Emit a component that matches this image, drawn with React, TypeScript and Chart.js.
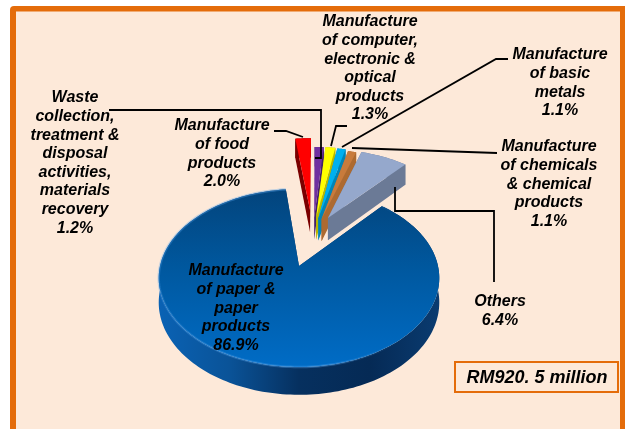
import React, { useEffect, useRef } from "react";
import { Chart, registerables } from "chart.js";

Chart.register(...registerables);

// ---- data ----
const categories = [
  "Manufacture of paper & paper products",
  "Manufacture of food products",
  "Waste collection, treatment & disposal activities, materials recovery",
  "Manufacture of computer, electronic & optical products",
  "Manufacture of basic metals",
  "Manufacture of chemicals & chemical products",
  "Others",
];
const shares = [86.9, 2.0, 1.2, 1.3, 1.1, 1.1, 6.4];
const totalNote = "RM920. 5 million";

// ---- styles ----
const topColors = ["#0060AE", "#FF0000", "#7030A0", "#FFFF00", "#00B0F0", "#C87B3C", "#95A8CC"];
const wallColors = ["#0A3B70", "#7A0000", "#45206A", "#B8B800", "#0085B8", "#AD6A30", "#6B7A96"];
// slice explosion in units of the pie radius (sideways, depthwise) and per-slice scale
const explodeU = [0, 0.087, 0.118, 0.133, 0.15, 0.175, 0.225];
const explodeV = [0, -0.7, -0.6, -0.6, -0.59, -0.58, -0.593];
const sliceScale = [1, 1.12, 1.07, 1.07, 1.07, 1.05, 1.04];

const labelBlocks = [
  { cx: 236, top: 271, lines: ["Manufacture", "of paper &", "paper", "products", "86.9%"] },
  { cx: 222, top: 126, lines: ["Manufacture", "of food", "products", "2.0%"] },
  { cx: 75, top: 98, lines: ["Waste", "collection,", "treatment &", "disposal", "activities,", "materials", "recovery", "1.2%"] },
  { cx: 370, top: 22, lines: ["Manufacture", "of computer,", "electronic &", "optical", "products", "1.3%"] },
  { cx: 560, top: 55, lines: ["Manufacture", "of basic", "metals", "1.1%"] },
  { cx: 549, top: 147, lines: ["Manufacture", "of chemicals", "& chemical", "products", "1.1%"] },
  { cx: 500, top: 302, lines: ["Others", "6.4%"] },
];
const leaders = [
  [[274, 131], [286, 131], [303, 137]],
  [[109, 110], [321, 110], [321, 158], [315, 158]],
  [[347, 126], [336, 126], [331, 146]],
  [[508, 59], [496, 59], [342, 147]],
  [[497, 153], [352, 148]],
  [[395, 187], [395, 211], [494, 211], [494, 282]],
];

// projection of the pie plane on to the page (perspective tilt)
const CX = 299, CY = 266, R = 139, A = 87.4, B = -0.135, DEPTH = 24;
const project = (u: number, v: number, low = false) => {
  const w = 1 + B * v;
  return { x: CX + (R * u) / w, y: CY + (A * v) / w + (low ? DEPTH / w : 0) };
};

const tracePoly = (ctx: CanvasRenderingContext2D, pts: { x: number; y: number }[]) => {
  ctx.beginPath();
  pts.forEach((p, i) => (i ? ctx.lineTo(p.x, p.y) : ctx.moveTo(p.x, p.y)));
  ctx.closePath();
};

const backdrop = {
  id: "backdrop",
  beforeDraw(chart: any) {
    const ctx: CanvasRenderingContext2D = chart.ctx;
    ctx.save();
    ctx.fillStyle = "#FFFFFF";
    ctx.fillRect(0, 0, chart.width, chart.height);
    ctx.fillStyle = "#E46C0A";
    ctx.beginPath();
    ctx.roundRect(10, 6, 640, 460, 4);
    ctx.fill();
    ctx.fillStyle = "#FDE9D9";
    ctx.fillRect(16, 11.5, 604, 460);
    ctx.restore();
  },
};

const tiltedPie = {
  id: "tiltedPie",
  beforeDatasetDraw(chart: any) {
    const ctx: CanvasRenderingContext2D = chart.ctx;
    const arcs = chart.getDatasetMeta(0).data;
    arcs.forEach((arc: any, i: number) => {
      const s = sliceScale[i], ou = explodeU[i], ov = explodeV[i];
      const steps = Math.max(8, Math.round((arc.endAngle - arc.startAngle) * 40));
      const top: { x: number; y: number }[] = [];
      const low: { x: number; y: number }[] = [];
      for (let k = 0; k <= steps; k++) {
        const t = arc.startAngle + ((arc.endAngle - arc.startAngle) * k) / steps;
        const u = ou + s * Math.cos(t), v = ov + s * Math.sin(t);
        top.push(project(u, v));
        low.push(project(u, v, true));
      }
      const apexTop = project(ou, ov);
      const apexLow = project(ou, ov, true);
      ctx.save();
      // cut walls
      ctx.fillStyle = wallColors[i];
      tracePoly(ctx, [apexTop, top[0], low[0], apexLow]);
      ctx.fill();
      tracePoly(ctx, [apexTop, top[steps], low[steps], apexLow]);
      ctx.fill();
      // rim wall
      if (i === 0) {
        const g = ctx.createLinearGradient(159, 0, 439, 0);
        g.addColorStop(0, "#0A62B4");
        g.addColorStop(0.25, "#0A5398");
        g.addColorStop(0.5, "#06305F");
        g.addColorStop(0.75, "#052A55");
        g.addColorStop(1, "#0A3B70");
        ctx.fillStyle = g;
      }
      tracePoly(ctx, [...top, ...low.slice().reverse()]);
      ctx.fill();
      // top face
      if (i === 0) {
        const g = ctx.createLinearGradient(0, 189, 0, 367);
        g.addColorStop(0, "#03447C");
        g.addColorStop(0.45, "#00589F");
        g.addColorStop(1, "#006CC6");
        ctx.fillStyle = g;
      } else {
        ctx.fillStyle = topColors[i];
      }
      tracePoly(ctx, [apexTop, ...top]);
      ctx.fill();
      // soft rim highlight on the large slice, strongest towards the front left
      if (i === 0) {
        ctx.beginPath();
        top.forEach((p, k) => (k ? ctx.lineTo(p.x, p.y) : ctx.moveTo(p.x, p.y)));
        const g = ctx.createLinearGradient(159, 0, 439, 0);
        g.addColorStop(0, "rgba(80,160,235,0.30)");
        g.addColorStop(0.6, "rgba(80,160,235,0.40)");
        g.addColorStop(0.85, "rgba(80,160,235,0)");
        ctx.strokeStyle = g;
        ctx.lineWidth = 2.5;
        ctx.stroke();
      }
      ctx.restore();
    });
    return false;
  },
};

const annotations = {
  id: "annotations",
  afterDatasetsDraw(chart: any) {
    const ctx: CanvasRenderingContext2D = chart.ctx;
    ctx.save();
    ctx.strokeStyle = "#000000";
    ctx.lineWidth = 1.8;
    ctx.lineJoin = "miter";
    leaders.forEach((path) => {
      ctx.beginPath();
      path.forEach(([x, y], i) => (i ? ctx.lineTo(x, y) : ctx.moveTo(x, y)));
      ctx.stroke();
    });
    ctx.fillStyle = "#000000";
    ctx.font = 'italic bold 16px "Liberation Sans"';
    ctx.textAlign = "center";
    ctx.textBaseline = "middle";
    labelBlocks.forEach((b) => {
      b.lines.forEach((line, k) => ctx.fillText(line, b.cx, b.top + k * 18.6));
    });
    ctx.strokeStyle = "#E46C0A";
    ctx.lineWidth = 2;
    ctx.strokeRect(455, 362, 163, 30);
    ctx.font = 'italic bold 18px "Liberation Sans"';
    ctx.fillText(totalNote, 537, 378);
    ctx.restore();
  },
};

export default function App() {
  const ref = useRef<HTMLCanvasElement>(null);
  useEffect(() => {
    const chart = new Chart(ref.current!, {
      type: "pie",
      data: {
        labels: categories,
        datasets: [{ data: shares, backgroundColor: topColors, borderWidth: 0 }],
      },
      options: {
        responsive: false,
        animation: false,
        rotation: 41,
        events: [],
        layout: { padding: 0 },
        plugins: { legend: { display: false }, tooltip: { enabled: false } },
      },
      plugins: [backdrop, tiltedPie, annotations],
    });
    return () => chart.destroy();
  }, []);
  return (
    <canvas
      ref={ref}
      width={625}
      height={429}
      style={{ position: "fixed", left: 0, top: 0, display: "block" }}
    />
  );
}
